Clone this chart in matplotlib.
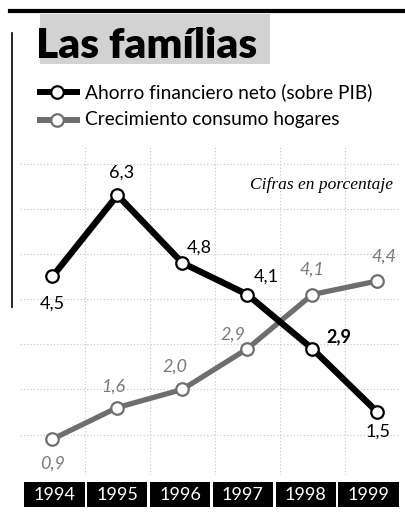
import matplotlib
matplotlib.use('Agg')
import matplotlib.pyplot as plt
from matplotlib.patches import Rectangle
from matplotlib.lines import Line2D

# datos
years = ['1994', '1995', '1996', '1997', '1998', '1999']
ahorro = [4.5, 6.3, 4.8, 4.1, 2.9, 1.5]
consumo = [0.9, 1.6, 2.0, 2.9, 4.1, 4.4]
ahorro_labels = ['4,5', '6,3', '4,8', '4,1', '2,9', '1,5']
consumo_labels = ['0,9', '1,6', '2,0', '2,9', '4,1', '4,4']

W, H = 406, 512
GRAY = '#6e6e6e'

def fx(x):
    return x / W

def fy(y):
    return 1 - y / H

plt.rcParams['font.family'] = ['Lato', 'DejaVu Sans']

fig = plt.figure(figsize=(W / 100, H / 100), dpi=100)
fig.patch.set_facecolor('white')

# marco superior e izquierdo
fig.add_artist(Line2D([fx(10), fx(406)], [fy(11), fy(11)], color='black', lw=3))
fig.add_artist(Line2D([fx(12), fx(12)], [fy(33), fy(307)], color='black', lw=1.2))

# titulo
fig.add_artist(Rectangle((fx(40), fy(64)), (270 - 40) / W, (64 - 14) / H,
                         transform=fig.transFigure, color='#d2d2d2', lw=0, zorder=0))
fig.text(fx(36), fy(58), 'Las famílias', fontsize=30.5, fontweight='heavy',
         ha='left', va='baseline', color='black')

# leyenda
for yy, col in [(92, 'black'), (120, GRAY)]:
    fig.add_artist(Line2D([fx(37), fx(80)], [fy(yy), fy(yy)], color=col, lw=4.3,
                          solid_capstyle='butt'))
    fig.add_artist(Line2D([fx(57)], [fy(yy)], marker='o', ms=9, mfc='white',
                          mec=col, mew=1.6, lw=0))
fig.text(fx(85), fy(92), 'Ahorro financiero neto (sobre PIB)', fontsize=13.8,
         ha='left', va='center')
fig.text(fx(85), fy(120), 'Crecimiento consumo hogares', fontsize=13.8,
         ha='left', va='center')

# grafico principal
ax = fig.add_axes([fx(20), fy(475), (400 - 20) / W, (475 - 145) / H])
x = list(range(len(years)))
ax.plot(x, consumo, color=GRAY, lw=3.8, marker='o', ms=9, mfc='white',
        mec=GRAY, mew=1.6, zorder=3)
ax.plot(x, ahorro, color='black', lw=4.6, marker='o', ms=9, mfc='white',
        mec='black', mew=1.6, zorder=4)

ax.set_xlim(-0.5, 5.35)
ax.set_ylim(0.106, 7.41)
ax.set_yticks(range(1, 8))
ax.set_xticks([i + 0.5 for i in range(5)])
ax.grid(True, color='#c4c4c4', ls=(0, (1, 2)), lw=0.8)
ax.tick_params(length=0, labelbottom=False, labelleft=False)
for s in ax.spines.values():
    s.set_visible(False)

# offsets de etiquetas en pixeles
off_a = [(0, -27), (4, 23), (17, 15), (19, 18), (27, 12), (1, -20)]
off_c = [(0, -24), (-4, 21), (-7, 23), (-14, 14), (0, 25), (7, 24)]
for i, (lab, (dx, dy)) in enumerate(zip(ahorro_labels, off_a)):
    ax.annotate(lab, (x[i], ahorro[i]), xytext=(dx * 0.72, dy * 0.72),
                textcoords='offset points', ha='center', va='center',
                fontsize=13, color='black',
                fontweight='bold' if i == 4 else 'normal', zorder=5)
for i, (lab, (dx, dy)) in enumerate(zip(consumo_labels, off_c)):
    ax.annotate(lab, (x[i], consumo[i]), xytext=(dx * 0.72, dy * 0.72),
                textcoords='offset points', ha='center', va='center',
                fontsize=13, color='#7a7a7a', style='italic', zorder=5)

fig.text(fx(393), fy(185), 'Cifras en porcentaje', fontsize=12.5,
         family='Liberation Serif', style='italic', ha='right', va='center')

# banda de anios
bx = fig.add_axes([fx(23), fy(507), (400 - 23) / W, 25 / H])
bx.bar(x, [1] * len(years), width=0.96, color='black')
for i, yr in enumerate(years):
    bx.text(i, 0.5, yr, color='white', ha='center', va='center', fontsize=13)
bx.set_xlim(-0.5, 5.5)
bx.set_ylim(0, 1)
bx.axis('off')

fig.savefig('out.png', dpi=100)
